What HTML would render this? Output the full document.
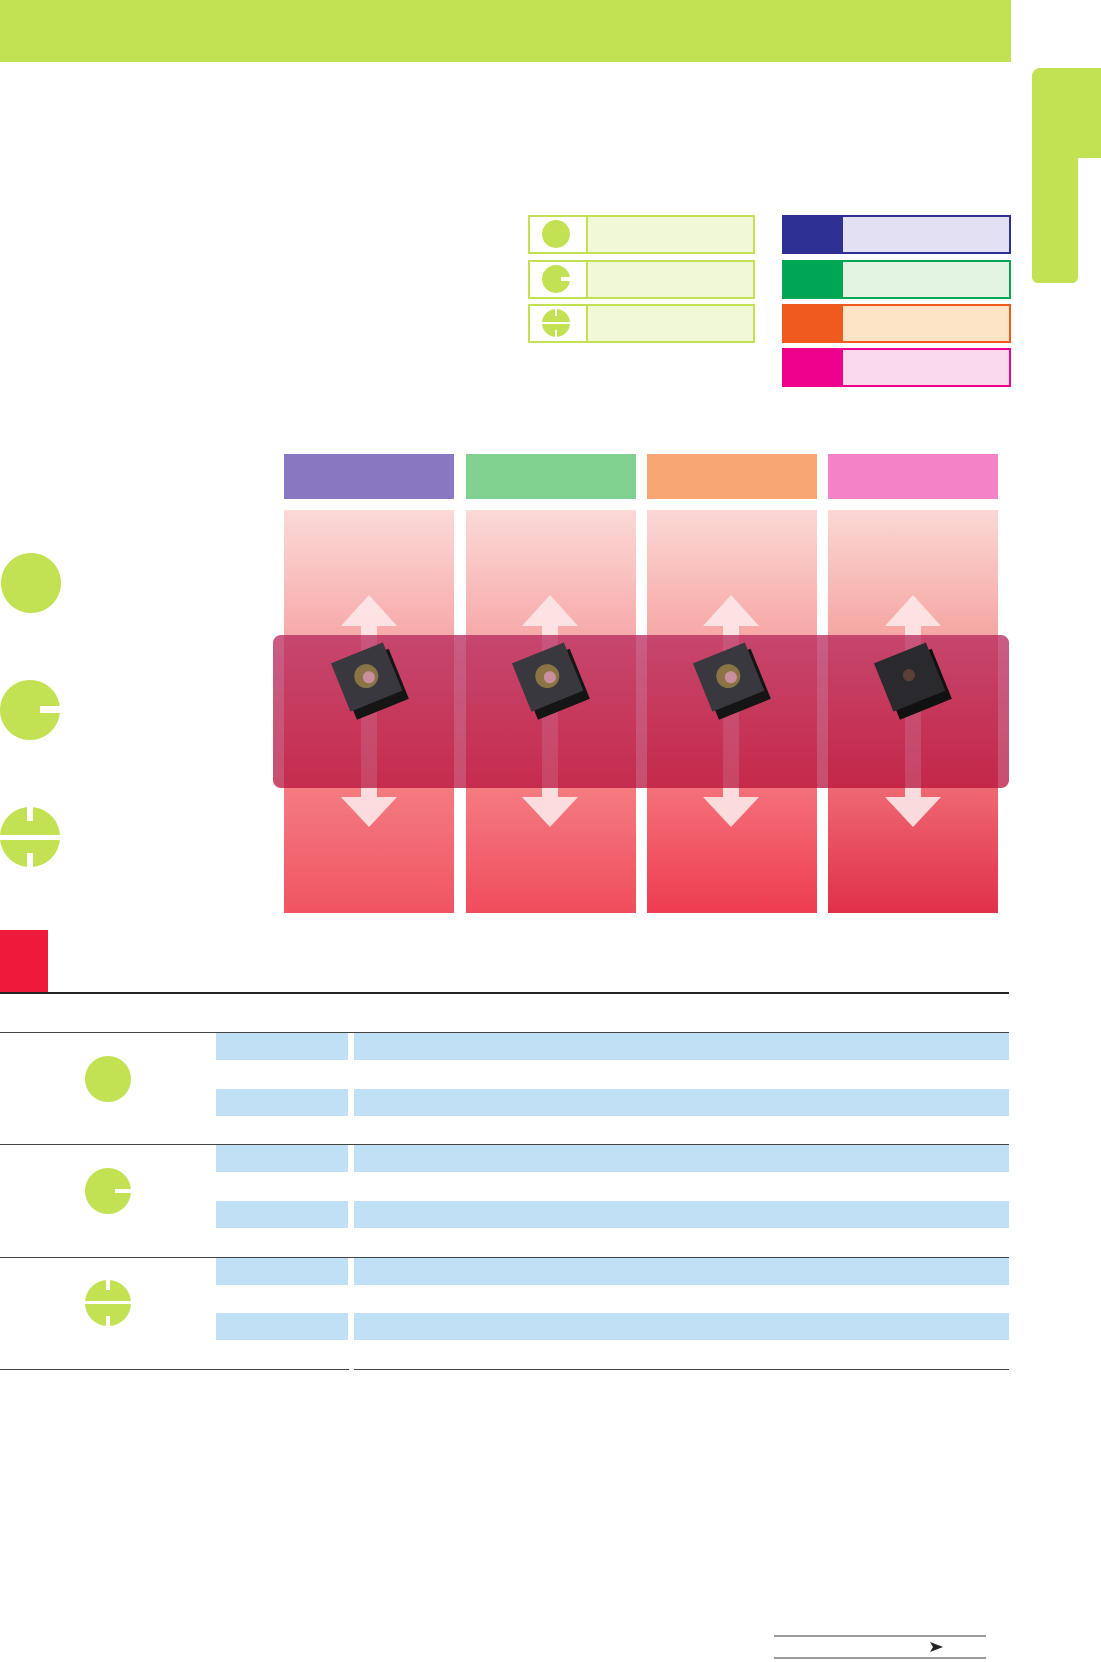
<!DOCTYPE html><html><head><style>
body{margin:0;width:1101px;height:1662px;position:relative;background:#fff;overflow:hidden;font-family:"Liberation Sans",sans-serif}
div{position:absolute;box-sizing:border-box}
.g{background:#c2e253}
.lb{border:2px solid #c2e253;background:#f0f8d8;width:227px;height:39px;left:528px}
.lb i{position:absolute;left:0;top:0;width:56px;height:35px;background:#fff;border-right:2px solid #c2e253}
.rb{width:229px;height:39px;left:782px;border:2px solid}
.rb i{position:absolute;left:0;top:0;width:59px;height:100%}
.col{top:510px;height:403px;width:170px}
.hd{top:454px;height:45px;width:170px}
.bar{background:#bfe0f5;height:27px}
.ln{height:1px;background:#444;left:0;width:1009px}
</style></head><body>
<div class="g" style="left:0;top:0;width:1011px;height:62px"></div>
<div class="g" style="left:1032px;top:68px;width:69px;height:90px;border-radius:8px 0 0 0"></div>
<div class="g" style="left:1032px;top:150px;width:46px;height:133px;border-radius:0 0 6px 6px"></div>

<div class="lb" style="top:215px"><i></i></div>
<div class="lb" style="top:260px"><i></i></div>
<div class="lb" style="top:304px"><i></i></div>
<svg style="position:absolute;left:0;top:0" width="1101" height="1662">
<circle cx="556" cy="234" r="14" fill="#c2e253"/>
<circle cx="556" cy="279" r="14" fill="#c2e253"/><rect x="561" y="277" width="10" height="4" fill="#fff"/>
<circle cx="556" cy="323" r="14" fill="#c2e253"/><rect x="555" y="308" width="2" height="8" fill="#fff"/><rect x="555" y="330" width="2" height="8" fill="#fff"/><rect x="541" y="322" width="30" height="2" fill="#fff"/>
</svg>
<div class="rb" style="top:215px;border-color:#2e3192;background:#e4e0f3"><i style="background:#2e3192"></i></div>
<div class="rb" style="top:260px;border-color:#00a651;background:#e3f4e3"><i style="background:#00a651"></i></div>
<div class="rb" style="top:304px;border-color:#f15a1e;background:#fde4c6"><i style="background:#f15a1e"></i></div>
<div class="rb" style="top:348px;border-color:#ec008c;background:#fad9ec"><i style="background:#ec008c"></i></div>

<div class="hd" style="left:284px;background:#8778c1"></div>
<div class="hd" style="left:466px;background:#80d18f"></div>
<div class="hd" style="left:647px;background:#f8a673"></div>
<div class="hd" style="left:828px;background:#f382c6"></div>
<div class="col" style="left:284px;background:linear-gradient(#fbdad7,#f6a4a4 35%,#f47a80 70%,#f05462)"></div>
<div class="col" style="left:466px;background:linear-gradient(#fbdad7,#f6a4a4 35%,#f47a80 70%,#f04c5c)"></div>
<div class="col" style="left:647px;background:linear-gradient(#fbd8d4,#f6a2a0 35%,#f46f78 70%,#ee3c50)"></div>
<div class="col" style="left:828px;background:linear-gradient(#fbd8d4,#f5a09c 35%,#ee6670 70%,#e0304a)"></div>

<svg style="position:absolute;left:0;top:0" width="1101" height="1662">
<defs><linearGradient id="bd" x1="0" y1="0" x2="0" y2="1"><stop offset="0" stop-color="#b5245a"/><stop offset="1" stop-color="#b5103a"/></linearGradient></defs>
<g fill="#fde8e8" opacity="0.9">
<g id="ar"><polygon points="369,595 397,626 377,626 377,797 397,797 369,827 341,797 361,797 361,626 341,626"/></g>
<use href="#ar" x="181"/><use href="#ar" x="362"/><use href="#ar" x="544"/>
</g>
<rect x="273" y="635" width="736" height="153" rx="8" fill="url(#bd)" opacity="0.74"/>
<g id="ins"><g transform="translate(370,680) rotate(-22)">
<rect x="-27" y="-22" width="56" height="54" fill="#151515"/>
<rect x="-30" y="-30" width="56" height="52" fill="#38383e"/>
<circle cx="-2" cy="-5" r="12" fill="#8a7445"/><circle cx="0" cy="-3" r="6" fill="#c8909e"/>
</g></g>
<use href="#ins" x="181"/><use href="#ins" x="362"/>
<g transform="translate(913,680) rotate(-22)"><rect x="-27" y="-22" width="56" height="54" fill="#111"/><rect x="-30" y="-30" width="56" height="52" fill="#2a2a2e"/><circle cx="-2" cy="-6" r="6" fill="#5a4038"/></g>

<circle cx="31" cy="583" r="30" fill="#c2e253"/>
<circle cx="30" cy="710" r="30" fill="#c2e253"/><rect x="40" y="706" width="22" height="7" fill="#fff"/>
<circle cx="30" cy="837" r="30" fill="#c2e253"/><rect x="27" y="805" width="6" height="16" fill="#fff"/><rect x="27" y="853" width="6" height="16" fill="#fff"/><rect x="-2" y="835" width="64" height="5" fill="#fff"/>

<circle cx="108" cy="1079" r="23" fill="#c2e253"/>
<circle cx="108" cy="1191" r="23" fill="#c2e253"/><rect x="115" y="1189" width="18" height="4" fill="#fff"/>
<circle cx="108" cy="1303" r="23" fill="#c2e253"/><rect x="106" y="1278" width="4" height="12" fill="#fff"/><rect x="106" y="1316" width="4" height="12" fill="#fff"/><rect x="83" y="1301" width="50" height="3" fill="#fff"/>
<line x1="774" y1="1636" x2="986" y2="1636" stroke="#333"/><line x1="774" y1="1658" x2="986" y2="1658" stroke="#333"/>
<polygon points="930,1642 943,1647 930,1652 933,1647" fill="#222"/>
</svg>

<div style="left:0;top:930px;width:48px;height:62px;background:#ed1a3b"></div>
<div class="ln" style="top:992px;height:2px;background:#222"></div>
<div class="ln" style="top:1032px"></div>
<div class="ln" style="top:1144px"></div>
<div class="ln" style="top:1257px"></div>
<div class="ln" style="top:1369px;width:349px"></div>
<div class="ln" style="top:1369px;left:354px;width:655px"></div>
<div class="bar" style="left:216px;width:132px;top:1033px"></div><div class="bar" style="left:354px;width:655px;top:1033px"></div>
<div class="bar" style="left:216px;width:132px;top:1089px"></div><div class="bar" style="left:354px;width:655px;top:1089px"></div>
<div class="bar" style="left:216px;width:132px;top:1145px"></div><div class="bar" style="left:354px;width:655px;top:1145px"></div>
<div class="bar" style="left:216px;width:132px;top:1201px"></div><div class="bar" style="left:354px;width:655px;top:1201px"></div>
<div class="bar" style="left:216px;width:132px;top:1258px"></div><div class="bar" style="left:354px;width:655px;top:1258px"></div>
<div class="bar" style="left:216px;width:132px;top:1313px"></div><div class="bar" style="left:354px;width:655px;top:1313px"></div>
</body></html>
